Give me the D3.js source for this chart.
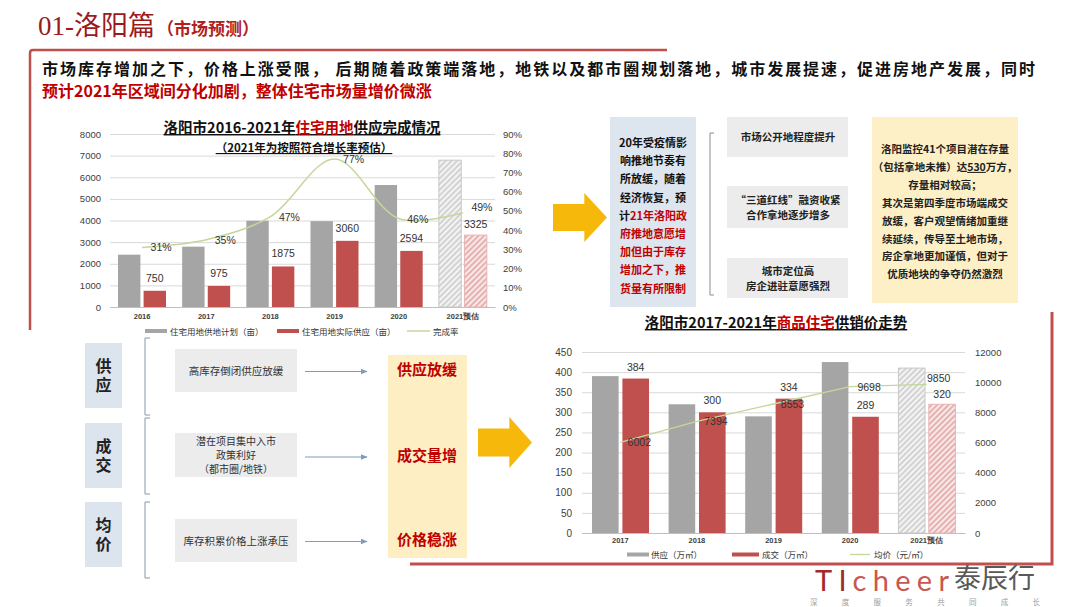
<!DOCTYPE html>
<html><head><meta charset="utf-8">
<script src="https://cdn.jsdelivr.net/npm/d3@7"></script>
<style>
html,body{margin:0;padding:0;background:#fff;}
svg{display:block;font-family:"Noto Sans CJK SC","Noto Sans",sans-serif;}
</style></head><body>
<svg id="c" width="1080" height="607"></svg>
<script>
// ---------- data ----------
const landYears = ["2016","2017","2018","2019","2020","2021预估"];
const landPlan = [2420, 2790, 3990, 3970, 5640, 6790];
const landSupply = [750, 975, 1875, 3060, 2594, 3325];
const landRate = [0.31, 0.35, 0.47, 0.77, 0.46, 0.49];
const landLeftTicks = [0,1000,2000,3000,4000,5000,6000,7000,8000];
const landRightTicks = [0,0.1,0.2,0.3,0.4,0.5,0.6,0.7,0.8,0.9];
const landLegend = ["住宅用地供地计划（亩）","住宅用地实际供应（亩）","完成率"];

const houseYears = ["2017","2018","2019","2020","2021预估"];
const houseSupply = [390, 320, 290, 425, 410];
const houseDeal = [384, 300, 334, 289, 320];
const housePrice = [6002, 7394, 8553, 9698, 9850];
const houseLeftTicks = [0,50,100,150,200,250,300,350,400,450];
const houseRightTicks = [0,2000,4000,6000,8000,10000,12000];
const houseLegend = ["供应（万㎡）","成交（万㎡）","均价（元/㎡）"];

const GRAY = "#a5a5a5", RED = "#c0504d", GREEN = "#c4d79b", DARKRED = "#c00000";

const svg = d3.select("#c");
const defs = svg.append("defs");
function hatch(id, color, bg){
  const p = defs.append("pattern").attr("id",id).attr("patternUnits","userSpaceOnUse")
    .attr("width",4).attr("height",4).attr("patternTransform","rotate(45)");
  p.append("rect").attr("width",4).attr("height",4).attr("fill",bg);
  p.append("line").attr("x1",1).attr("y1",0).attr("x2",1).attr("y2",4).attr("stroke",color).attr("stroke-width",0.8);
}
hatch("hGray","#a0a0a0","#f4f4f4");
hatch("hRed","#c9605c","#f8e8e8");
defs.append("marker").attr("id","arr").attr("viewBox","0 0 10 10").attr("refX",9).attr("refY",5)
  .attr("markerWidth",6).attr("markerHeight",6).attr("orient","auto")
  .append("path").attr("d","M0,1 L10,5 L0,9 Z").attr("fill","#7f9bbf");

// ---------- header ----------
const title = svg.append("text").attr("x",38).attr("y",35);
title.append("tspan").text("01-洛阳篇").attr("font-family","'Liberation Serif','Noto Sans CJK SC',serif")
  .attr("font-size",27).attr("fill","#9b1b1b");
title.append("tspan").text("（市场预测）").attr("font-size",17).attr("font-weight","bold").attr("fill","#b02020").attr("dx",2);

// red frame
svg.append("path").attr("d","M30,330 L30,53 Q30,50 33,50 L667,50").attr("fill","none").attr("stroke","#c0504d").attr("stroke-width",2.5);
svg.append("path").attr("d","M410,564 L1052,564 L1052,312").attr("fill","none").attr("stroke","#c0504d").attr("stroke-width",3);

svg.append("text").attr("x",42).attr("y",75).attr("font-size",16).attr("font-weight","bold").attr("fill","#111")
  .attr("textLength",993).attr("lengthAdjust","spacing")
  .text("市场库存增加之下，价格上涨受限， 后期随着政策端落地，地铁以及都市圈规划落地，城市发展提速，促进房地产发展，同时");
svg.append("text").attr("x",42).attr("y",97).attr("font-size",16).attr("font-weight","bold").attr("fill",DARKRED)
  .text("预计2021年区域间分化加剧，整体住宅市场量增价微涨");

// ---------- chart 1 ----------
{
  const x = d3.scaleBand().domain(landYears).range([110,495]);
  const xi = d3.scaleBand().domain(["plan","supply"]).range([8,56]).paddingInner(0.125);
  const yL = d3.scaleLinear().domain([0,8000]).range([307,134]);
  const yR = d3.scaleLinear().domain([0,0.9]).range([307,134]);
  const g = svg.append("g");
  g.append("g").attr("transform","translate(110,0)")
    .call(d3.axisLeft(yL).tickValues(landLeftTicks).tickSize(-385).tickFormat(""))
    .call(a=>a.select(".domain").remove()).selectAll("line").attr("stroke","#d9d9d9");
  g.append("g").attr("transform","translate(101,0)")
    .call(d3.axisLeft(yL).tickValues(landLeftTicks).tickSize(0).tickPadding(0).tickFormat(d3.format("d")))
    .call(a=>a.select(".domain").remove())
    .selectAll("text").attr("font-size",9.5).attr("fill","#404040").attr("font-family","'Liberation Sans',sans-serif");
  g.append("g").attr("transform","translate(503,0)")
    .call(d3.axisRight(yR).tickValues(landRightTicks).tickSize(0).tickPadding(0).tickFormat(d3.format(".0%")))
    .call(a=>a.select(".domain").remove())
    .selectAll("text").attr("font-size",9.5).attr("fill","#404040").attr("font-family","'Liberation Sans',sans-serif");
  g.append("g").attr("transform","translate(0,307)")
    .call(d3.axisBottom(x).tickSize(0).tickPadding(7))
    .call(a=>a.select(".domain").attr("stroke","#bfbfbf"))
    .selectAll("text").attr("font-size",7.5).attr("font-weight","bold").attr("fill","#404040");
  const last = landYears.length-1;
  g.selectAll(".bp").data(landPlan).join("rect")
    .attr("x",(d,i)=>x(landYears[i])+xi("plan")).attr("width",xi.bandwidth())
    .attr("y",d=>yL(d)).attr("height",d=>yL(0)-yL(d))
    .attr("fill",(d,i)=>i===last?"url(#hGray)":GRAY).attr("stroke",(d,i)=>i===last?"#c8c8c8":"none");
  g.selectAll(".bs").data(landSupply).join("rect")
    .attr("x",(d,i)=>x(landYears[i])+xi("supply")).attr("width",xi.bandwidth())
    .attr("y",d=>yL(d)).attr("height",d=>yL(0)-yL(d))
    .attr("fill",(d,i)=>i===last?"url(#hRed)":RED).attr("stroke",(d,i)=>i===last?"#e8b4b3":"none");
  g.selectAll(".ls").data(landSupply).join("text")
    .attr("x",(d,i)=>x(landYears[i])+xi("supply")+xi.bandwidth()/2).attr("y",(d,i)=>yL(d)-(i===last?7:9))
    .attr("text-anchor","middle").attr("font-size",10.5).attr("fill","#333").attr("font-family","'Liberation Sans',sans-serif").text(d=>d);
  const cx = (i)=>x(landYears[i])+x.bandwidth()/2;
  g.append("path").datum(landRate)
    .attr("d",d3.line().x((d,i)=>cx(i)).y(d=>yR(d)).curve(d3.curveCatmullRom.alpha(0.5)))
    .attr("fill","none").attr("stroke",GREEN).attr("stroke-width",1.5);
  g.selectAll(".lr").data(landRate).join("text")
    .attr("x",(d,i)=>cx(i)+19).attr("y",(d,i)=>yR(d)+(i===last?-2:4))
    .attr("text-anchor","middle").attr("font-size",10.5).attr("fill","#333").attr("font-family","'Liberation Sans',sans-serif")
    .text(d3.format(".0%"));
  const t = g.append("text").attr("x",302).attr("y",133).attr("text-anchor","middle").attr("font-size",14.5).attr("font-weight","bold")
    .attr("fill","#111").style("text-decoration","underline");
  t.append("tspan").text("洛阳市2016-2021年");
  t.append("tspan").text("住宅用地").attr("fill",DARKRED);
  t.append("tspan").text("供应完成情况");
  g.append("text").attr("x",304).attr("y",152).attr("text-anchor","middle").attr("font-size",11.5).attr("font-weight","bold")
    .attr("fill","#111").style("text-decoration","underline").text("（2021年为按照符合增长率预估）");
  const lx = [145,277,407];
  const lg = g.append("g");
  lg.append("rect").attr("x",lx[0]).attr("y",329).attr("width",22).attr("height",4).attr("fill",GRAY);
  lg.append("rect").attr("x",lx[1]).attr("y",329).attr("width",22).attr("height",4).attr("fill",RED);
  lg.append("line").attr("x1",lx[2]).attr("x2",lx[2]+23).attr("y1",331).attr("y2",331).attr("stroke",GREEN).attr("stroke-width",1.5);
  lg.selectAll("text").data(landLegend).join("text")
    .attr("x",(d,i)=>lx[i]+(i===2?26:25)).attr("y",334.5).attr("font-size",8.5).attr("fill","#333").text(d=>d);
}

// ---------- chart 2 ----------
{
  const x = d3.scaleBand().domain(houseYears).range([582,965]);
  const xi = d3.scaleBand().domain(["s","d"]).range([10,67]).paddingInner(0.125);
  const yL = d3.scaleLinear().domain([0,450]).range([533,352]);
  const yR = d3.scaleLinear().domain([0,12000]).range([533,352]);
  const g = svg.append("g");
  g.append("g").attr("transform","translate(582,0)")
    .call(d3.axisLeft(yL).tickValues(houseLeftTicks).tickSize(-383).tickFormat(""))
    .call(a=>a.select(".domain").remove()).selectAll("line").attr("stroke","#d9d9d9");
  g.append("g").attr("transform","translate(572,0)")
    .call(d3.axisLeft(yL).tickValues(houseLeftTicks).tickSize(0).tickPadding(0).tickFormat(d3.format("d")))
    .call(a=>a.select(".domain").remove())
    .selectAll("text").attr("font-size",10).attr("fill","#404040").attr("font-family","'Liberation Sans',sans-serif");
  g.append("g").attr("transform","translate(975,0)")
    .call(d3.axisRight(yR).tickValues(houseRightTicks).tickSize(0).tickPadding(0).tickFormat(d3.format("d")))
    .call(a=>a.select(".domain").remove())
    .selectAll("text").attr("font-size",9.5).attr("fill","#404040").attr("font-family","'Liberation Sans',sans-serif");
  g.append("g").attr("transform","translate(0,533)")
    .call(d3.axisBottom(x).tickSize(0).tickPadding(5))
    .call(a=>a.select(".domain").attr("stroke","#bfbfbf"))
    .selectAll("text").attr("font-size",7.5).attr("font-weight","bold").attr("fill","#404040");
  const last = houseYears.length-1;
  g.selectAll(".bs").data(houseSupply).join("rect")
    .attr("x",(d,i)=>x(houseYears[i])+xi("s")).attr("width",xi.bandwidth())
    .attr("y",d=>yL(d)).attr("height",d=>yL(0)-yL(d))
    .attr("fill",(d,i)=>i===last?"url(#hGray)":GRAY).attr("stroke",(d,i)=>i===last?"#c8c8c8":"none");
  g.selectAll(".bd").data(houseDeal).join("rect")
    .attr("x",(d,i)=>x(houseYears[i])+xi("d")).attr("width",xi.bandwidth())
    .attr("y",d=>yL(d)).attr("height",d=>yL(0)-yL(d))
    .attr("fill",(d,i)=>i===last?"url(#hRed)":RED).attr("stroke",(d,i)=>i===last?"#e8b4b3":"none");
  g.selectAll(".ld").data(houseDeal).join("text")
    .attr("x",(d,i)=>x(houseYears[i])+xi("d")+xi.bandwidth()/2).attr("y",(d,i)=>yL(d)-(i===last?6:8))
    .attr("text-anchor","middle").attr("font-size",10.5).attr("fill","#333").attr("font-family","'Liberation Sans',sans-serif").text(d=>d);
  const cx = (i)=>x(houseYears[i])+x.bandwidth()/2;
  g.append("path").datum(housePrice)
    .attr("d",d3.line().x((d,i)=>cx(i)).y(d=>yR(d)))
    .attr("fill","none").attr("stroke",GREEN).attr("stroke-width",1.3);
  g.selectAll(".lp").data(housePrice).join("text")
    .attr("x",(d,i)=>cx(i)+(i===last?12:19)).attr("y",(d,i)=>yR(d)+(i===last?-2:4))
    .attr("text-anchor","middle").attr("font-size",10.5).attr("fill","#333").attr("font-family","'Liberation Sans',sans-serif").text(d=>d);
  const t = g.append("text").attr("x",776).attr("y",328).attr("text-anchor","middle").attr("font-size",14.5).attr("font-weight","bold")
    .attr("fill","#111").style("text-decoration","underline");
  t.append("tspan").text("洛阳市2017-2021年");
  t.append("tspan").text("商品住宅").attr("fill",DARKRED);
  t.append("tspan").text("供销价走势");
  const lx = [627,732,850];
  const lg = g.append("g");
  lg.append("rect").attr("x",lx[0]).attr("y",552.5).attr("width",22).attr("height",4).attr("fill",GRAY);
  lg.append("rect").attr("x",lx[1]).attr("y",552.5).attr("width",27).attr("height",4).attr("fill",RED);
  lg.append("line").attr("x1",lx[2]).attr("x2",lx[2]+20).attr("y1",554.5).attr("y2",554.5).attr("stroke",GREEN).attr("stroke-width",1.3);
  lg.selectAll("text").data(houseLegend).join("text")
    .attr("x",(d,i)=>lx[i]+(i===1?30:24)).attr("y",558).attr("font-size",8.5).attr("fill","#333").text(d=>d);
}

// ---------- middle top info ----------
function yArrow(x0,y0,w,h){
  const bw = w*0.58, bh = h*0.55;
  svg.append("path").attr("fill","#f6b90b")
    .attr("d",`M${x0},${y0+(h-bh)/2} L${x0+bw},${y0+(h-bh)/2} L${x0+bw},${y0} L${x0+w},${y0+h/2} L${x0+bw},${y0+h} L${x0+bw},${y0+h-(h-bh)/2} L${x0},${y0+h-(h-bh)/2} Z`);
}
yArrow(553,193,54,49);
svg.append("rect").attr("x",610).attr("y",117).attr("width",86).attr("height",190).attr("fill","#dde5ef");
const blueLines = [
  [["20年受疫情影","#111"]],
  [["响推地节奏有","#111"]],
  [["所放缓，随着","#111"]],
  [["经济恢复，预","#111"]],
  [["计","#111"],["21年洛阳政",DARKRED]],
  [["府推地意愿增",DARKRED]],
  [["加但由于库存",DARKRED]],
  [["增加之下，推",DARKRED]],
  [["货量有所限制",DARKRED]]
];
blueLines.forEach((ln,i)=>{
  const t = svg.append("text").attr("x",653).attr("y",147+i*18.2).attr("text-anchor","middle")
    .attr("font-size",11).attr("font-weight","bold");
  ln.forEach(s=>t.append("tspan").text(s[0]).attr("fill",s[1]));
});
svg.append("path").attr("d","M714,133 L710,133 L710,295 L714,295").attr("fill","none").attr("stroke","#8c8c8c").attr("stroke-width",1);
const grayBoxes = [
  {y:117,h:40,lines:["市场公开地程度提升"]},
  {y:186,h:42,lines:["“三道红线”融资收紧","合作拿地逐步增多"]},
  {y:258,h:40,lines:["城市定位高","房企进驻意愿强烈"]}
];
grayBoxes.forEach(b=>{
  svg.append("rect").attr("x",727).attr("y",b.y).attr("width",121).attr("height",b.h).attr("fill","#ececec");
  const n=b.lines.length;
  b.lines.forEach((l,i)=>svg.append("text").attr("x",788).attr("y",b.y+b.h/2+4+(i-(n-1)/2)*15)
    .attr("text-anchor","middle").attr("font-size",10.5).attr("font-weight","bold").attr("fill","#222").text(l));
});
svg.append("rect").attr("x",872).attr("y",117).attr("width",146).attr("height",186).attr("fill","#fdf0c6");
const yLines = ["洛阳监控41个项目潜在存量","（包括拿地未推）达|530|万方，","存量相对较高；","其次是第四季度市场端成交","放缓，客户观望情绪加重继","续延续，传导至土地市场，","房企拿地更加谨慎，但对于","优质地块的争夺仍然激烈"];
yLines.forEach((l,i)=>{
  const t = svg.append("text").attr("x",945).attr("y",153+i*17.9).attr("text-anchor","middle")
    .attr("font-size",10.5).attr("font-weight","bold").attr("fill","#222");
  l.split("|").forEach((s,j)=>{const ts=t.append("tspan").text(s); if(j===1) ts.style("text-decoration","underline");});
});

// ---------- bottom left ----------
const rows = [
  {lab:"供应", y:343, h:65, br:[338,415], box:[349,43], txt:["高库存倒闭供应放缓"], res:"供应放缓", ry:370},
  {lab:"成交", y:423, h:65, br:[418,494], box:[433,44], txt:["潜在项目集中入市","政策利好","（都市圈/地铁）"], res:"成交量增", ry:456},
  {lab:"均价", y:502, h:65, br:[502,578], box:[519,43], txt:["库存积累价格上涨承压"], res:"价格稳涨", ry:540}
];
svg.append("rect").attr("x",388).attr("y",355).attr("width",79).attr("height",203).attr("fill","#fdefc3");
rows.forEach(r=>{
  svg.append("rect").attr("x",85).attr("y",r.y).attr("width",37).attr("height",r.h).attr("fill","#dce4ee");
  svg.append("text").attr("x",103.5).attr("y",r.y+r.h/2+1).attr("text-anchor","middle")
    .style("writing-mode","vertical-rl").attr("letter-spacing",3)
    .attr("font-size",16).attr("font-weight","bold").attr("fill","#222").text(r.lab);
  svg.append("path").attr("d",`M150,${r.br[0]} L145,${r.br[0]} L145,${r.br[1]} L150,${r.br[1]}`).attr("fill","none").attr("stroke","#8496b0").attr("stroke-width",1);
  svg.append("rect").attr("x",175).attr("y",r.box[0]).attr("width",122).attr("height",r.box[1]).attr("fill","#ececec");
  const n=r.txt.length;
  r.txt.forEach((l,i)=>svg.append("text").attr("x",236).attr("y",r.box[0]+r.box[1]/2+4+(i-(n-1)/2)*13.8)
    .attr("text-anchor","middle").attr("font-size",n>1?10:10.5).attr("fill","#333").text(l));
  const ay = r.box[0]+r.box[1]/2+1+ (n>1?1:0);
  svg.append("line").attr("x1",305).attr("x2",367).attr("y1",ay).attr("y2",ay).attr("stroke","#7f9bbf").attr("stroke-width",1.2).attr("marker-end","url(#arr)");
  svg.append("text").attr("x",427).attr("y",r.ry+5).attr("text-anchor","middle").attr("font-size",15).attr("font-weight","bold")
    .attr("fill",DARKRED).text(r.res);
});
yArrow(478,417,54,51);

// ---------- logo ----------
const lg = svg.append("text").attr("x",815).attr("y",591).attr("font-family","Lato,'Liberation Sans',sans-serif").attr("font-size",29)
  .attr("textLength",134).attr("lengthAdjust","spacing");
lg.append("tspan").text("TI").attr("fill","#a12a2c");
lg.append("tspan").text("cheer").attr("fill","#c9574f");
svg.append("text").attr("x",954).attr("y",588).attr("font-size",27).attr("fill","#595959").text("泰辰行");
svg.append("text").attr("x",810).attr("y",605).attr("font-size",7.5).attr("fill","#a0a0a0")
  .attr("textLength",230).attr("lengthAdjust","spacing").text("深度服务共同成长");
</script>
</body></html>
